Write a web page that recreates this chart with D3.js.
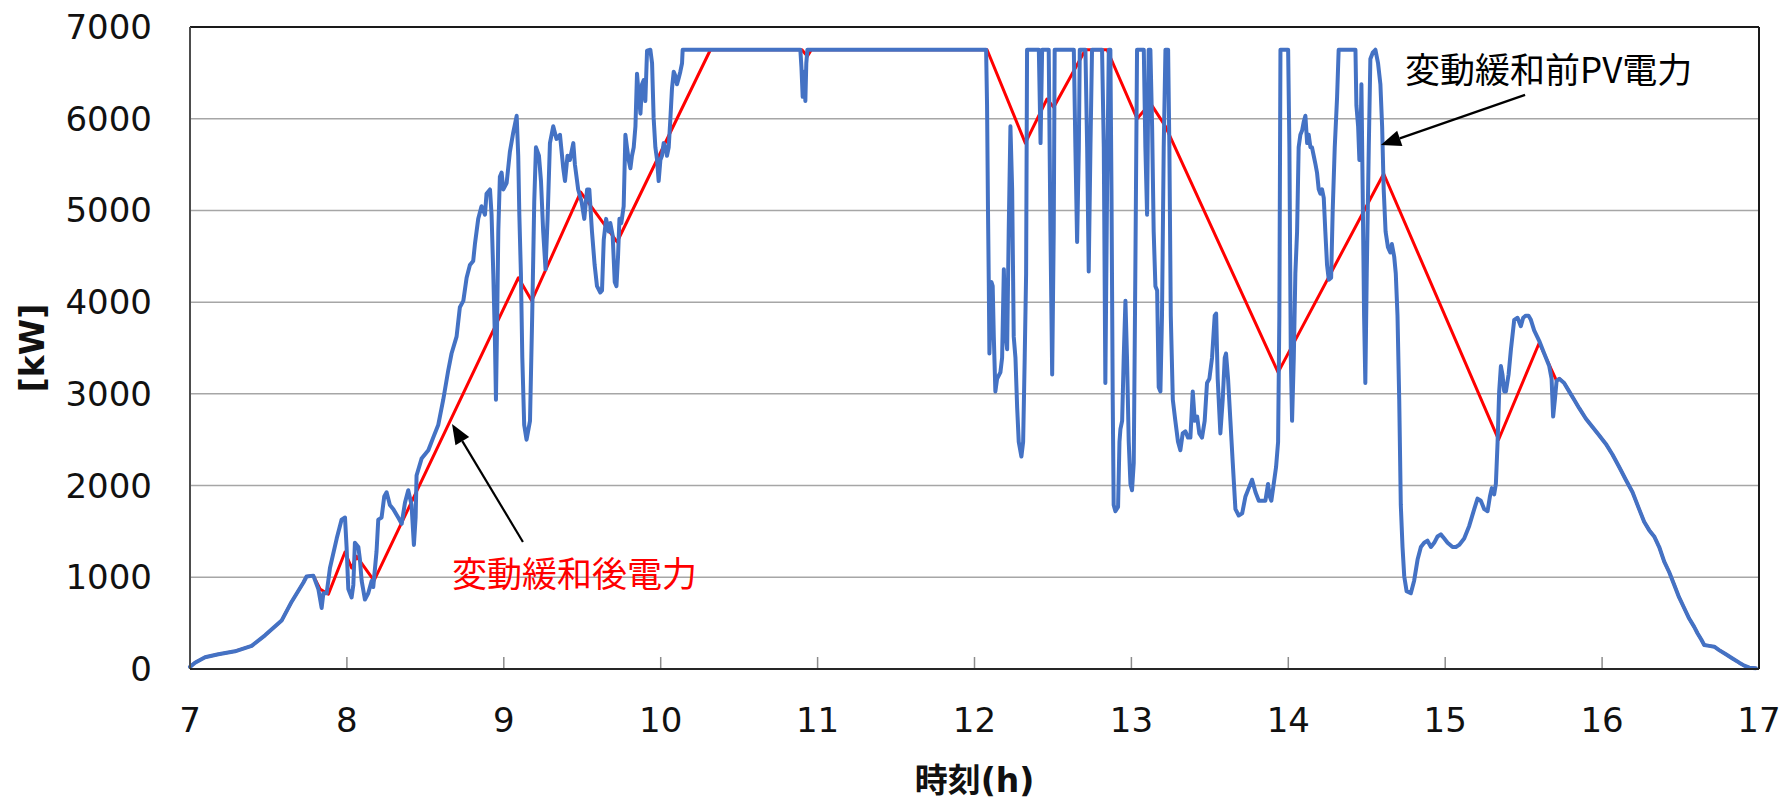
<!DOCTYPE html>
<html><head><meta charset="utf-8">
<script src="https://cdn.jsdelivr.net/npm/d3@7"></script>
<style>
html,body{margin:0;padding:0;background:#fff;}
svg{display:block;}
</style></head>
<body>
<svg id="chart" width="1781" height="799"></svg>
<script>
// ---- data ----
const xTicks = [7,8,9,10,11,12,13,14,15,16,17];
const yTicks = [0,1000,2000,3000,4000,5000,6000,7000];
const xTitle = "時刻(h)";
const yTitle = "[kW]";

// 変動緩和前PV電力 [hour, kW]
const pvBefore = [
[7.000,23],[7.032,69],[7.096,128],[7.181,161],[7.287,193],[7.393,252],[7.478,367],[7.584,528],[7.648,734],[7.722,940],[7.743,1009],[7.786,1018],[7.818,872],[7.839,665],[7.850,826],[7.871,826],[7.892,1101],[7.935,1422],[7.966,1628],[7.988,1651],[7.998,1330],[8.009,872],[8.030,780],[8.041,917],[8.051,1376],[8.073,1330],[8.083,1193],[8.094,963],[8.115,757],[8.136,826],[8.158,963],[8.168,894],[8.189,1284],[8.200,1628],[8.221,1651],[8.238,1881],[8.253,1927],[8.274,1789],[8.296,1743],[8.327,1651],[8.349,1583],[8.370,1812],[8.391,1949],[8.412,1789],[8.427,1353],[8.438,1651],[8.444,2110],[8.476,2294],[8.519,2385],[8.550,2523],[8.582,2660],[8.614,2936],[8.646,3257],[8.667,3440],[8.699,3624],[8.720,3945],[8.742,4014],[8.763,4266],[8.784,4404],[8.805,4449],[8.816,4633],[8.837,4908],[8.858,5046],[8.880,4954],[8.890,5183],[8.912,5229],[8.922,4954],[8.933,4312],[8.943,3624],[8.950,2936],[8.958,3853],[8.965,4770],[8.975,5367],[8.986,5413],[8.997,5229],[9.018,5298],[9.039,5642],[9.060,5848],[9.082,6032],[9.092,5596],[9.099,4954],[9.109,4312],[9.118,3394],[9.130,2660],[9.145,2500],[9.167,2706],[9.181,3853],[9.194,5092],[9.205,5688],[9.224,5596],[9.237,5321],[9.251,4770],[9.266,4358],[9.279,4908],[9.294,5734],[9.315,5917],[9.336,5780],[9.358,5825],[9.379,5459],[9.390,5321],[9.406,5596],[9.421,5550],[9.443,5734],[9.453,5504],[9.474,5229],[9.496,5092],[9.513,4908],
[9.531,5229],[9.545,5229],[9.562,4770],[9.579,4404],[9.594,4174],[9.615,4105],[9.626,4128],[9.637,4679],[9.652,4908],[9.669,4770],[9.679,4862],[9.694,4725],[9.707,4220],[9.718,4174],[9.728,4495],[9.737,4908],[9.749,4862],[9.764,5046],[9.775,5825],[9.785,5688],[9.796,5550],[9.807,5459],[9.817,5596],[9.828,5688],[9.839,5917],[9.849,6491],[9.860,6261],[9.871,6055],[9.881,6376],[9.892,6422],[9.902,6193],[9.913,6743],[9.934,6752],[9.945,6605],[9.955,6009],[9.966,5688],[9.977,5550],[9.987,5321],[9.998,5550],[10.008,5596],[10.019,5734],[10.030,5688],[10.040,5596],[10.051,5688],[10.062,6009],[10.072,6330],[10.083,6513],[10.093,6468],[10.104,6376],[10.115,6445],[10.125,6513],[10.136,6605],[10.140,6752],[10.890,6752],[10.897,6559],[10.905,6239],[10.914,6513],[10.922,6193],[10.928,6605],[10.935,6752],[12.074,6752],
[12.080,6147],[12.086,5000],[12.091,4220],[12.095,3440],[12.101,3761],[12.108,4220],[12.116,4174],[12.123,3624],[12.133,3027],[12.144,3165],[12.165,3234],[12.176,3394],[12.187,4358],[12.197,3670],[12.208,3486],[12.218,4770],[12.229,5917],[12.240,5229],[12.250,3624],[12.261,3394],[12.272,2844],[12.282,2477],[12.299,2316],[12.310,2477],[12.320,3394],[12.329,4312],[12.335,6752],[12.410,6752],[12.421,5734],[12.431,6752],[12.473,6752],[12.484,4770],[12.495,3211],[12.505,4770],[12.511,6752],[12.633,6752],[12.643,5688],[12.654,4656],[12.665,5688],[12.671,6752],[12.707,6752],[12.718,5688],[12.728,4335],[12.739,5688],[12.749,6752],[12.813,6752],[12.824,5688],[12.834,3119],[12.845,5229],[12.856,6752],[12.866,6752],[12.873,5229],[12.881,2936],[12.887,1789],[12.898,1720],[12.915,1766],[12.924,2477],[12.930,2615],[12.941,2706],[12.951,3394],[12.962,4014],[12.972,3394],[12.983,2477],[12.994,2018],[13.004,1949],[13.015,2248],[13.025,4312],[13.036,6752],[13.079,6752],[13.089,5688],[13.100,4954],[13.110,6752],[13.121,6752],[13.132,5917],[13.142,4770],[13.153,4174],[13.164,4128],[13.174,3073],[13.185,3027],[13.195,3853],[13.206,5688],[13.217,6752],[13.234,6752],[13.242,5688],[13.251,3853],[13.264,2936],[13.280,2706],[13.297,2477],[13.312,2385],[13.327,2569],[13.344,2592],[13.361,2523],[13.376,2523],[13.391,3027],[13.404,2706],[13.419,2752],[13.433,2569],[13.450,2523],[13.467,2706],[13.482,3119],[13.497,3165],[13.514,3394],[13.531,3853],[13.540,3876],[13.550,3165],[13.567,2569],[13.582,2936],[13.595,3394],[13.603,3440],[13.616,3165],[13.631,2706],[13.646,2248],[13.663,1743],[13.684,1674],[13.706,1697],[13.727,1881],[13.748,1972],[13.769,2064],[13.791,1927],[13.812,1835],[13.837,1835],[13.854,1835],[13.871,2018],[13.882,1881],[13.892,1835],[13.907,2018],[13.922,2202],[13.935,2477],[13.943,3853],[13.950,6752],[13.999,6752],[14.007,5688],[14.016,3394],[14.024,2706],[14.035,3394],[14.045,4312],[14.056,4770],[14.066,5688],[14.077,5825],[14.088,5871],[14.098,5963],[14.109,6032],[14.120,5734],[14.130,5825],[14.141,5688],[14.151,5688],[14.162,5596],[14.173,5504],[14.183,5413],[14.194,5229],[14.204,5183],[14.215,5229],[14.226,5137],[14.236,4770],[14.247,4404],[14.258,4243],[14.273,4266],[14.283,5000],[14.296,5688],[14.311,6239],[14.321,6752],[14.428,6752],[14.434,6147],[14.445,5917],[14.453,5550],[14.460,5688],[14.466,6376],[14.474,5229],[14.483,3853],[14.491,3119],[14.500,4312],[14.513,5688],[14.523,6651],[14.538,6720],[14.555,6752],[14.572,6605],[14.587,6376],[14.598,5917],[14.608,5229],[14.620,4770],[14.635,4600],[14.650,4541],[14.660,4633],[14.675,4495],[14.685,4312],[14.696,3853],[14.707,2936],[14.717,1789],[14.728,1330],[14.739,1009],[14.754,849],[14.781,826],
[14.802,963],[14.824,1193],[14.845,1330],[14.866,1376],[14.887,1399],[14.909,1330],[14.930,1376],[14.951,1445],[14.972,1468],[14.994,1422],[15.015,1376],[15.047,1330],[15.068,1330],[15.089,1353],[15.121,1422],[15.153,1560],[15.185,1743],[15.206,1858],[15.227,1835],[15.249,1743],[15.270,1720],[15.285,1881],[15.297,1972],[15.312,1904],[15.323,2018],[15.334,2477],[15.344,3027],[15.355,3303],[15.365,3211],[15.376,3027],[15.387,3027],[15.404,3211],[15.419,3486],[15.440,3807],[15.461,3830],[15.482,3738],[15.497,3830],[15.514,3853],[15.531,3853],[15.546,3807],[15.567,3692],[15.599,3578],[15.631,3440],[15.663,3303],[15.678,3165],[15.688,2752],[15.699,2936],[15.710,3142],[15.727,3165],[15.758,3119],[15.790,3027],[15.822,2936],[15.854,2844],[15.897,2729],[15.939,2638],[15.982,2546],[16.024,2454],[16.066,2339],[16.109,2202],[16.151,2064],[16.194,1927],[16.236,1743],[16.268,1605],[16.300,1514],[16.332,1445],[16.364,1330],[16.396,1170],[16.428,1055],[16.460,917],[16.491,780],[16.523,665],[16.555,550],[16.587,459],[16.608,390],[16.632,321],[16.651,261],[16.683,252],[16.715,243],[16.746,206],[16.789,161],[16.831,115],[16.874,69],[16.906,37],[16.938,14],[16.980,9]
];

// 変動緩和後電力 [hour, kW]
const pvAfter = [
[7.000,23],[7.032,69],[7.096,128],[7.181,161],[7.287,193],[7.393,252],[7.478,367],[7.584,528],[7.648,734],[7.722,940],[7.743,1009],[7.786,1018],[7.829,872],[7.882,816],[7.988,1275],[8.030,1101],[8.062,1229],[8.173,963],[9.093,4266],[9.178,4014],[9.490,5200],[9.722,4656],[10.317,6752],[10.900,6752],[10.935,6680],[10.960,6752],[12.080,6752],[12.324,5734],[12.462,6215],[12.505,6124],[12.707,6752],[12.845,6752],[13.036,6000],[13.121,6170],[13.217,5917],[13.935,3234],[14.608,5400],[15.340,2500],[15.599,3555],[15.710,3142],
[15.727,3165],[15.758,3119],[15.790,3027],[15.822,2936],[15.854,2844],[15.897,2729],[15.939,2638],[15.982,2546],[16.024,2454],[16.066,2339],[16.109,2202],[16.151,2064],[16.194,1927],[16.236,1743],[16.268,1605],[16.300,1514],[16.332,1445],[16.364,1330],[16.396,1170],[16.428,1055],[16.460,917],[16.491,780],[16.523,665],[16.555,550],[16.587,459],[16.608,390],[16.632,321],[16.651,261],[16.683,252],[16.715,243],[16.746,206],[16.789,161],[16.831,115],[16.874,69],[16.906,37],[16.938,14],[16.980,9]
];

// annotations: text anchor (hour,kW), arrow tail and tip (hour,kW)
const annoText = ["変動緩和後電力", "変動緩和前PV電力"];
const annoColor = ["#FF0000", "#000000"];
const annoTextPos = [[8.670,1058],[14.744,6553]];
const annoArrowTail = [[9.122,1385],[15.509,6260]];
const annoArrowTip = [[8.670,2672],[14.590,5714]];

// ---- drawing ----
const svg = d3.select("#chart");
const margin = {left:190, right:1781-1759, top:27, bottom:799-669};
const W = 1781, H = 799;
const x = d3.scaleLinear().domain([7,17]).range([margin.left, W - margin.right]);
const y = d3.scaleLinear().domain([0,7000]).range([H - margin.bottom, margin.top]);
const numFont = "'DejaVu Sans', Verdana, sans-serif";
const jpFont = "'Noto Sans CJK JP', 'DejaVu Sans', sans-serif";

// gridlines
svg.append("g").selectAll("line").data(yTicks.filter(d => d > 0 && d < 7000)).join("line")
  .attr("x1", x(7)).attr("x2", x(17))
  .attr("y1", d => y(d)).attr("y2", d => y(d))
  .attr("stroke", "#a6a6a6").attr("stroke-width", 1.5);

// x tick marks (inside)
svg.append("g").selectAll("line").data(xTicks.filter(d => d > 7 && d < 17)).join("line")
  .attr("x1", d => x(d)).attr("x2", d => x(d))
  .attr("y1", y(0)).attr("y2", y(0) - 12)
  .attr("stroke", "#8c8c8c").attr("stroke-width", 1.5);

// lines
const line = d3.line().x(d => x(d[0])).y(d => y(d[1]));
svg.append("path").datum(pvAfter).attr("d", line)
  .attr("fill", "none").attr("stroke", "#FF0000").attr("stroke-width", 3)
  .attr("stroke-linejoin", "round");
svg.append("path").datum(pvBefore).attr("d", line)
  .attr("fill", "none").attr("stroke", "#4472C4").attr("stroke-width", 4)
  .attr("stroke-linejoin", "round").attr("stroke-linecap", "round");

// frame
svg.append("line").attr("x1", x(7)).attr("x2", x(17)).attr("y1", y(7000)).attr("y2", y(7000))
  .attr("stroke", "#1a1a1a").attr("stroke-width", 2);
svg.append("line").attr("x1", x(17)).attr("x2", x(17)).attr("y1", y(7000)).attr("y2", y(0))
  .attr("stroke", "#1a1a1a").attr("stroke-width", 2);
svg.append("line").attr("x1", x(7)).attr("x2", x(7)).attr("y1", y(7000)).attr("y2", y(0))
  .attr("stroke", "#4d4d4d").attr("stroke-width", 2);
svg.append("line").attr("x1", x(7)).attr("x2", x(17)).attr("y1", y(0)).attr("y2", y(0))
  .attr("stroke", "#262626").attr("stroke-width", 2);

// y tick labels
svg.append("g").selectAll("text").data(yTicks).join("text")
  .attr("x", x(7) - 38).attr("y", d => y(d))
  .attr("text-anchor", "end").attr("dominant-baseline", "central")
  .attr("font-family", numFont).attr("font-size", 34).attr("fill", "#111")
  .text(d => d);

// x tick labels
svg.append("g").selectAll("text").data(xTicks).join("text")
  .attr("x", d => x(d)).attr("y", y(0) + 51)
  .attr("text-anchor", "middle").attr("dominant-baseline", "central")
  .attr("font-family", numFont).attr("font-size", 34).attr("fill", "#111")
  .text(d => d);

// axis titles
svg.append("text").attr("x", (x(7) + x(17)) / 2).attr("y", 780)
  .attr("text-anchor", "middle").attr("dominant-baseline", "central")
  .attr("font-family", "'DejaVu Sans', 'Noto Sans CJK JP', sans-serif").attr("font-weight", "bold")
  .attr("font-size", 33).attr("fill", "#111").text(xTitle);
svg.append("text")
  .attr("transform", `translate(32,${(y(0) + y(7000)) / 2}) rotate(-90)`)
  .attr("text-anchor", "middle").attr("dominant-baseline", "central")
  .attr("font-family", numFont).attr("font-weight", "bold")
  .attr("font-size", 33).attr("fill", "#111").text(yTitle);

// annotations
annoText.forEach((t, i) => {
  svg.append("text")
    .attr("x", x(annoTextPos[i][0])).attr("y", y(annoTextPos[i][1]))
    .attr("dominant-baseline", "central")
    .attr("font-family", jpFont).attr("font-size", 35)
    .attr("fill", annoColor[i]).text(t);
  const x1 = x(annoArrowTail[i][0]), y1 = y(annoArrowTail[i][1]);
  const x2 = x(annoArrowTip[i][0]), y2 = y(annoArrowTip[i][1]);
  const ang = Math.atan2(y2 - y1, x2 - x1);
  const L = 20, hw = 8;
  const bx = x2 - L * Math.cos(ang), by = y2 - L * Math.sin(ang);
  svg.append("line").attr("x1", x1).attr("y1", y1).attr("x2", bx).attr("y2", by)
    .attr("stroke", "#000").attr("stroke-width", 2.2);
  const px = -Math.sin(ang), py = Math.cos(ang);
  svg.append("path")
    .attr("d", `M${x2},${y2}L${bx + hw * px},${by + hw * py}L${bx - hw * px},${by - hw * py}Z`)
    .attr("fill", "#000");
});
</script>
</body></html>
